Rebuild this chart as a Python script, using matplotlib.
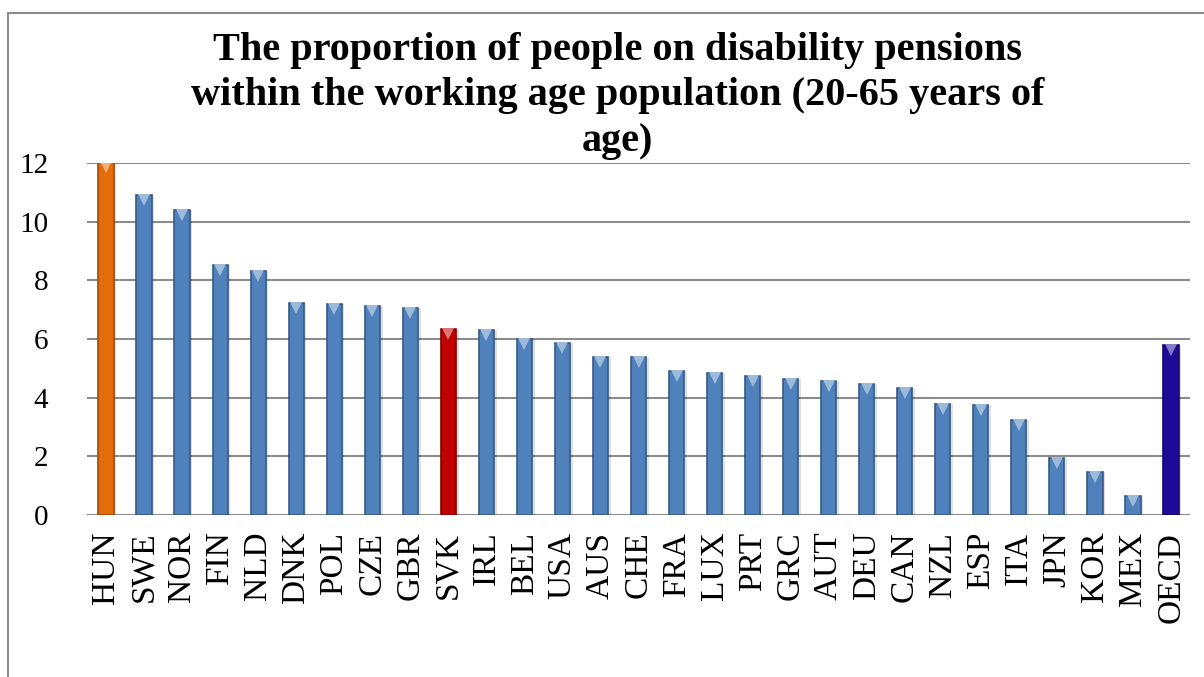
import matplotlib.pyplot as plt
import matplotlib.patches as patches
import numpy as np

# Chart data
countries = ["HUN", "SWE", "NOR", "FIN", "NLD", "DNK", "POL", "CZE", "GBR", "SVK",
             "IRL", "BEL", "USA", "AUS", "CHE", "FRA", "LUX", "PRT", "GRC", "AUT",
             "DEU", "CAN", "NZL", "ESP", "ITA", "JPN", "KOR", "MEX", "OECD"]
values = [12.05, 10.9, 10.4, 8.52, 8.33, 7.22, 7.2, 7.12, 7.04, 6.35,
          6.32, 6.0, 5.87, 5.4, 5.37, 4.9, 4.85, 4.74, 4.63, 4.58,
          4.45, 4.34, 3.8, 3.76, 3.24, 1.94, 1.45, 0.65, 5.8]
highlight = {"HUN": "#E46C0A", "SVK": "#C00000", "OECD": "#1F0B99"}
yticks = [0, 2, 4, 6, 8, 10, 12]

TITLE = ("The proportion of people on disability pensions\n"
         "within the working age population (20-65 years of\nage)")

BLUE = "#4F81BD"

def darker(c, f=0.7):
    r, g, b, _ = plt.matplotlib.colors.to_rgba(c)
    return (r * f, g * f, b * f)

def lighter(c, f=0.45):
    r, g, b, _ = plt.matplotlib.colors.to_rgba(c)
    return (r + (1 - r) * f, g + (1 - g) * f, b + (1 - b) * f)

plt.rcParams['font.family'] = ['Liberation Serif', 'DejaVu Serif']

fig = plt.figure(figsize=(12.04, 6.77), dpi=100)
ax = fig.add_axes([87 / 1204, 1 - 515 / 677, (1190 - 87) / 1204, (515 - 163) / 677])

x = np.arange(len(countries))
colors = [highlight.get(c, BLUE) for c in countries]

# soft shadow behind each bar
ax.bar(x + 0.06, values, width=0.42, color="#000000", alpha=0.12, zorder=2)
ax.bar(x, values, width=0.4, color=colors, edgecolor=[darker(c) for c in colors],
       linewidth=1.2, zorder=3)
# light bevel at the top of each bar
for xi, v, c in zip(x, values, colors):
    ax.plot(xi, v - 0.17, marker="v", markersize=8, color=lighter(c),
            markeredgewidth=0, zorder=4)

ax.set_xlim(-0.5, len(countries) - 0.5)
ax.set_ylim(0, 12)
ax.set_yticks(yticks)
ax.set_yticklabels([str(t) for t in yticks])
ax.grid(axis="y", color="#8c8c8c", linewidth=1.5, zorder=0)
ax.set_axisbelow(True)
for s in ax.spines.values():
    s.set_visible(False)

ax.set_xticks(x)
ax.set_xticklabels(countries, rotation=90, fontsize=24, va="top")
ax.tick_params(axis="x", length=0, pad=12)
ax.tick_params(axis="y", length=0, pad=28, labelsize=21)

fig.text(0.513, 1 - 32 / 677, TITLE, ha="center", va="top", fontsize=29,
         fontweight="bold", linespacing=1.3, zorder=5)

# chart area border
fig.patches.append(patches.Rectangle((8 / 1204, -0.1), 1.2, 1 - 13 / 677 + 0.1,
                                     transform=fig.transFigure, fill=False,
                                     edgecolor="#8c8c8c", linewidth=1.5))

fig.savefig("out.png", dpi=100)
